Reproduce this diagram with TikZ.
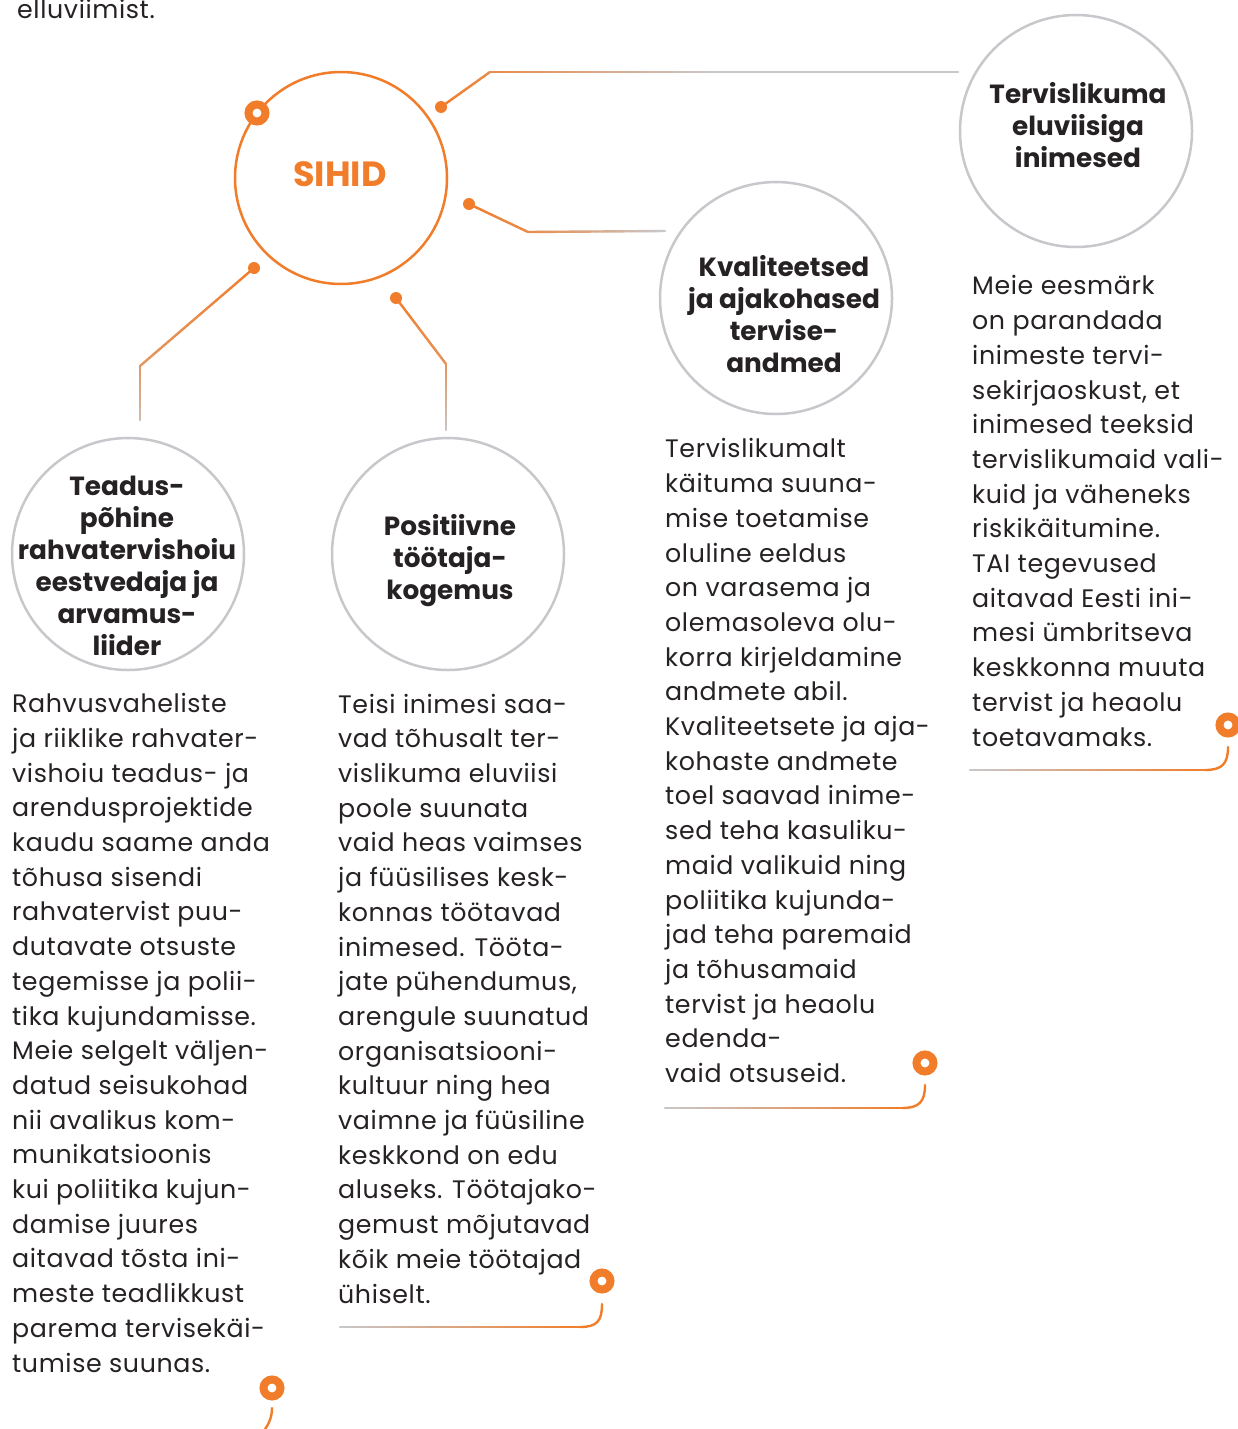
\documentclass[tikz,border=0pt]{standalone}
\usepackage{fontspec}
\setmainfont{Poppins}
\newfontfamily\bodyfont[LetterSpace=2.4]{Poppins}
\usetikzlibrary{calc}
\definecolor{corange}{RGB}{241,125,43}
\definecolor{cgrey}{RGB}{200,200,204}
\definecolor{ctext}{RGB}{38,34,35}
\newcommand\gradline[4]{%
 \foreach \gi in {1,...,24}{%
  \pgfmathsetmacro\ga{(\gi-1)/24}%
  \pgfmathsetmacro\gb{\gi/24}%
  \pgfmathsetmacro\gc{#3+(#4-#3)*(\gi-0.5)/24}%
  \draw[conn, draw=corange!\gc!cgrey] ($(#1)!\ga!(#2)$) -- ($(#1)!\gb!(#2)$);
 }}
\tikzset{
 conn/.style={line width=2.4pt, line cap=round},
 goal/.style={circle, draw=cgrey, line width=2.5pt, minimum size=232pt, inner sep=0pt},
 ttl/.style={font=\fontsize{26.3}{32}\selectfont\bfseries, text=ctext, align=center, inner sep=0pt},
 body/.style={font=\bodyfont\fontsize{25.3}{34.7}\selectfont, text=ctext, align=left, inner sep=0pt, anchor=base west},
 dotm/.style={circle, fill=corange, minimum size=12pt, inner sep=0pt},
 ringm/.style={circle, draw=corange, line width=8pt, minimum size=17pt, inner sep=0pt, fill=white},
}
\begin{document}
\begin{tikzpicture}[x=1pt,y=-1pt]
\useasboundingbox (0,0) rectangle (1238,1429);
\clip (0,0) rectangle (1238,1429);
\fill[white] (0,0) rectangle (1238,1429);

\node[body] (top) at (17,19) {elluviimist.};

% central circle
\node[circle, draw=corange, line width=2.5pt, minimum size=212pt, inner sep=0pt] (sihid) at (341,178) {};
\node[font=\fontsize{35}{35}\selectfont\bfseries, text=corange, inner sep=0pt] (sihidlbl) at (340,174) {SIHID};

% goal circles
\node[goal] (g1) at (128,554) {};
\node[goal] (g2) at (448,554) {};
\node[goal] (g3) at (776,298) {};
\node[goal] (g4) at (1076,131) {};

\node[ttl] (t1) at (127,566) {Teadus-\\põhine\\rahvatervishoiu\\eestvedaja ja\\arvamus-\\liider};
\node[ttl] (t2) at (450,561) {Positiivne\\töötaja-\\kogemus};
\node[ttl] (t3) at (784,314) {Kvaliteetsed\\ja ajakohased\\tervise-\\andmed};
\node[ttl] (t4) at (1078,125) {Tervislikuma\\eluviisiga\\inimesed};

% connectors
\node[dotm] (d1) at (441,107) {};
\node[dotm] (d2) at (469,204) {};
\node[dotm] (d3) at (254,268) {};
\node[dotm] (d4) at (396,298) {};
\coordinate (b1) at (490,72);  \coordinate (m1) at (720,72); \coordinate (e1) at (958,72);
\coordinate (b2) at (528,232); \coordinate (e2) at (665,231);
\coordinate (b3) at (140,366); \coordinate (e3) at (140,420);
\coordinate (b4) at (446,364); \coordinate (e4) at (446,430);
\gradline{d1.center}{b1}{100}{80}
\gradline{b1}{m1}{80}{0}
\draw[conn, cgrey] (m1) -- (e1);
\gradline{d2.center}{b2}{100}{80}
\gradline{b2}{e2}{80}{0}
\gradline{d3.center}{b3}{100}{65}
\gradline{b3}{e3}{65}{20}
\gradline{d4.center}{b4}{100}{70}
\gradline{b4}{e4}{70}{5}

% body texts (base anchor = baseline of the last line)
\node[body] (p1) at (12,1372) {Rahvusvaheliste\\ja riiklike rahvater-\\vishoiu teadus- ja\\arendusprojektide\\kaudu saame anda\\tõhusa sisendi\\rahvatervist puu-\\dutavate otsuste\\tegemisse ja polii-\\tika kujundamisse.\\Meie selgelt väljen-\\datud seisukohad\\nii avalikus kom-\\munikatsioonis\\kui poliitika kujun-\\damise juures\\aitavad tõsta ini-\\meste teadlikkust\\parema tervisekäi-\\tumise suunas.};
\node[body] (p2) at (338,1303) {Teisi inimesi saa-\\vad tõhusalt ter-\\vislikuma eluviisi\\poole suunata\\vaid heas vaimses\\ja füüsilises kesk-\\konnas töötavad\\inimesed. Tööta-\\jate pühendumus,\\arengule suunatud\\organisatsiooni-\\kultuur ning hea\\vaimne ja füüsiline\\keskkond on edu\\aluseks. Töötajako-\\gemust mõjutavad\\kõik meie töötajad\\ühiselt.};
\node[body] (p3) at (665,1082.5) {Tervislikumalt\\käituma suuna-\\mise toetamise\\oluline eeldus\\on varasema ja\\olemasoleva olu-\\korra kirjeldamine\\andmete abil.\\Kvaliteetsete ja aja-\\kohaste andmete\\toel saavad inime-\\sed teha kasuliku-\\maid valikuid ning\\poliitika kujunda-\\jad teha paremaid\\ja tõhusamaid\\tervist ja heaolu\\edenda-\\vaid otsuseid.};
\node[body] (p4) at (972,746) {Meie eesmärk\\on parandada\\inimeste tervi-\\sekirjaoskust, et\\inimesed teeksid\\tervislikumaid vali-\\kuid ja väheneks\\riskikäitumine.\\TAI tegevused\\aitavad Eesti ini-\\mesi ümbritseva\\keskkonna muuta\\tervist ja heaolu\\toetavamaks.};

% bottom underlines with ring markers
\coordinate (l4a) at (970,770);  \coordinate (l4b) at (1205,770);  \coordinate (l4c) at (1228,747);
\coordinate (l3a) at (665,1108); \coordinate (l3b) at (902,1108); \coordinate (l3c) at (925,1085);
\coordinate (l2a) at (340,1327); \coordinate (l2b) at (580,1327); \coordinate (l2c) at (602,1304);
\coordinate (l1a) at (272,1408); \coordinate (l1b) at (262,1434);
\gradline{l4a}{l4b}{0}{100}
\gradline{l3a}{l3b}{0}{100}
\gradline{l2a}{l2b}{0}{100}
\draw[conn, corange] (l4b) .. controls +(17,0) and +(0,17) .. (l4c);
\draw[conn, corange] (l3b) .. controls +(17,0) and +(0,17) .. (l3c);
\draw[conn, corange] (l2b) .. controls +(17,0) and +(0,17) .. (l2c);
\draw[conn, corange] (l1a) .. controls +(0,12) and +(5,-8) .. (l1b);

\node[ringm] (r0) at (257,113) {};
\node[ringm] (r1) at (272,1388) {};
\node[ringm] (r2) at (602,1281) {};
\node[ringm] (r3) at (925,1063) {};
\node[ringm] (r4) at (1228,725) {};
\end{tikzpicture}
\end{document}
